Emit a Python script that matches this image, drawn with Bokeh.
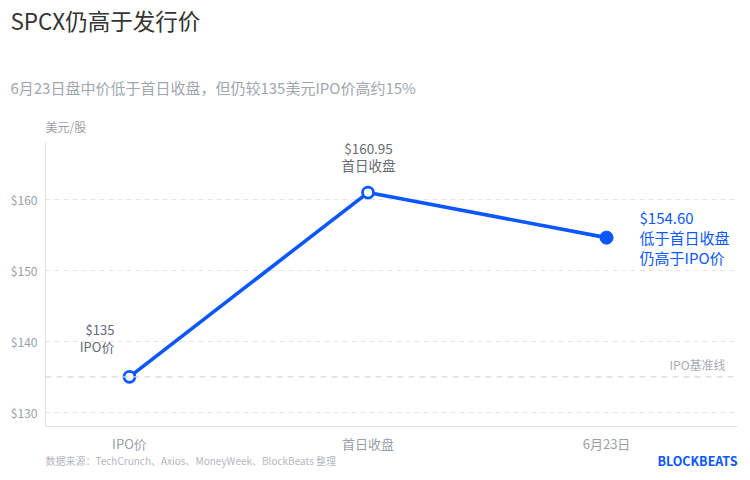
from bokeh.plotting import figure
from bokeh.models import Label, FixedTicker, PrintfTickFormatter, Range1d, Span, ColumnDataSource
from bokeh.embed import file_html
from bokeh.resources import INLINE

# data
categories = ["IPO价", "首日收盘", "6月23日"]
prices = [135.0, 160.95, 154.60]
y_ticks = [130, 140, 150, 160]
ipo_price = 135

FONT = "Noto Sans CJK SC"
BLUE = "#0a57ff"
GRAY_T = "#9aa0aa"

W, H = 742, 472
p = figure(width=W, height=H, output_backend="svg", toolbar_location=None,
           x_range=Range1d(-0.352, 2.549), y_range=Range1d(128, 168),
           min_border_left=45, min_border_right=W - 737, min_border_top=142, min_border_bottom=H - 426)
p.outline_line_color = None
p.background_fill_color = "white"

# grid
p.xgrid.grid_line_color = None
p.ygrid.grid_line_color = "#e3e5ea"
p.ygrid.grid_line_dash = "5 4"
p.ygrid.grid_line_width = 1
p.yaxis.ticker = FixedTicker(ticks=y_ticks)
p.yaxis.formatter = PrintfTickFormatter(format="$%d")
p.xaxis.ticker = FixedTicker(ticks=list(range(len(categories))))
p.xaxis.major_label_overrides = {i: c for i, c in enumerate(categories)}
for ax in (p.xaxis, p.yaxis):
    ax.axis_line_color = "#dfe1e6"
    ax.major_tick_line_color = None
    ax.minor_tick_line_color = None
    ax.major_tick_out = 0
    ax.major_label_text_color = GRAY_T
    ax.major_label_text_font = FONT
p.yaxis.major_label_text_font_size = "12px"
p.xaxis.major_label_text_font_size = "13px"
p.xaxis.major_label_standoff = 7
p.yaxis.major_label_standoff = 8

# IPO baseline
p.add_layout(Span(location=ipo_price, dimension="width", line_color="#d6d9df",
                  line_dash="6 5", line_width=1.2))

xs = list(range(len(categories)))
src = ColumnDataSource(dict(x=xs, y=prices))
p.line("x", "y", source=src, line_color=BLUE, line_width=3.6)
p.scatter(xs[:2], prices[:2], size=11, fill_color="white", line_color=BLUE, line_width=2.8)
p.scatter(xs[2:], prices[2:], size=13, fill_color=BLUE, line_color=BLUE)

def yv(py):
    return 128 + (426 - py) / 7.1

def xv(px):
    return (px - 129) / 238.5

def lab(px, py, t, color, size, align="left", base="middle", weight="normal", side="center"):
    l = Label(x=xv(px), y=yv(py), text=t, text_color=color,
              text_font=FONT, text_font_size=size, text_align=align,
              text_baseline=base, text_font_style=weight)
    p.add_layout(l, side)

lab(114, 329, "$%d" % prices[0], "#666b73", "13px", align="right")
lab(114, 346, "IPO价", "#666b73", "13px", align="right")
lab(368, 147, "$%.2f" % prices[1], "#666b73", "13.5px", align="center")
lab(368, 164, "首日收盘", "#666b73", "13.5px", align="center")
lab(639, 217, "$%.2f" % prices[2], BLUE, "15px")
lab(639, 237, "低于首日收盘", BLUE, "15px")
lab(639, 257, "仍高于IPO价", BLUE, "15px")
lab(725, 364, "IPO基准线", "#a8adb5", "12px", align="right")

# outside texts: held in the (roomy) top panel so they are not clipped to the frame
lab(10, 19, "SPCX仍高于发行价", "#333333", "22.5px", side="above")
lab(10, 87, "6月23日盘中价低于首日收盘，但仍较135美元IPO价高约15%", "#a0a6b0", "15px", side="above")
lab(45, 126, "美元/股", "#9aa0aa", "12px", side="above")
lab(45, 460, "数据来源：TechCrunch、Axios、MoneyWeek、BlockBeats 整理", "#b4b8c0", "10px", side="above")
lab(737, 460, "BLOCKBEATS", BLUE, "12.5px", align="right", weight="bold", side="above")

open("out.html", "w").write(file_html(p, INLINE))
